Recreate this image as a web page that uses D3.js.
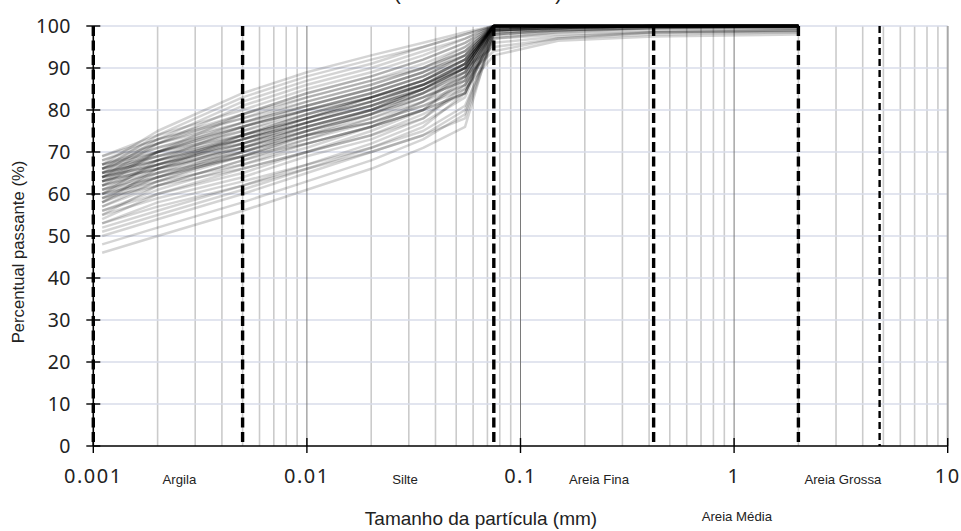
<!DOCTYPE html>
<html><head><meta charset="utf-8">
<script src="https://cdn.jsdelivr.net/npm/d3@7"></script>
<style>body{margin:0;background:#fff}svg{display:block}</style>
</head><body>
<svg id="c" width="961" height="531"></svg>
<script>
const diameters = [0.0011, 0.002, 0.005, 0.01, 0.02, 0.035, 0.055, 0.075, 0.15, 0.42, 2.0];
const samples = [
[46,50,56,61,66,71,76,99,99.5,100,100],
[48,52,58,63,68,73,79,98,99,99.5,99.5],
[51,55,61,66,71,75,81,97,98,98.5,98.5],
[52,56,62,67,72,77,83,99,99.5,100,100],
[53,58,63,67,71,76,84,100,100,100,100],
[54,60,66,70,74,78,85,99.5,100,100,100],
[55,59,64,69,73,78,86,96,97.5,98.5,99],
[56,61,67,72,76,80,87,100,100,100,100],
[57,62,68,73,78,82,88,99,99.5,100,100],
[58,63,69,74,77,81,86,98.5,99.5,100,100],
[58,64,71,76,80,85,91,100,100,100,100],
[59,62,66,70,75,80,88,99.5,100,100,100],
[59,65,72,77,81,85,90,100,100,100,100],
[60,63,67,71,76,82,89,100,100,100,100],
[60,66,73,78,83,87,92,100,100,100,100],
[61,65,70,74,78,83,88,99,99.5,100,100],
[61,64,69,74,79,84,90,100,100,100,100],
[62,66,71,75,79,84,89,99.5,100,100,100],
[62,67,73,77,81,86,91,100,100,100,100],
[63,66,71,76,80,85,90,100,100,100,100],
[63,67,72,76,80,84,88,94,97,98.5,99],
[63,68,74,79,83,87,92,100,100,100,100],
[64,67,71,75,79,83,87,99,99.5,100,100],
[64,68,73,77,81,85,90,100,100,100,100],
[64,69,75,80,84,88,93,100,100,100,100],
[64,67,72,77,82,86,91,100,100,100,100],
[65,68,72,76,80,84,89,99.5,100,100,100],
[65,69,74,78,82,86,91,100,100,100,100],
[65,70,76,81,85,89,94,100,100,100,100],
[65,68,73,78,83,87,92,100,100,100,100],
[66,69,73,77,81,85,90,100,100,100,100],
[66,70,75,79,83,87,92,99.5,100,100,100],
[66,71,77,82,86,90,95,100,100,100,100],
[67,70,74,78,82,86,91,100,100,100,100],
[67,71,76,80,84,88,93,100,100,100,100],
[67,72,78,83,87,91,95,100,100,100,100],
[68,72,77,81,85,89,93,100,100,100,100],
[68,73,79,84,88,92,96,100,100,100,100],
[69,74,80,85,89,93,97,100,100,100,100],
[69,73,78,82,86,90,94,100,100,100,100],
[62,70,77,81,85,89,93,100,100,100,100],
[60,68,76,80,84,88,92,100,100,100,100],
[58,66,74,79,83,87,91,100,100,100,100],
[57,63,70,75,79,83,87,99,99.5,100,100],
[63,70,79,84,88,92,96,100,100,100,100],
[64,72,81,86,90,94,97,100,100,100,100],
[65,73,82,87,91,95,98,100,100,100,100],
[66,74,83,88,92,95,98,100,100,100,100],
[67,75,84,89,93,96,98.5,100,100,100,100],
[64,70,76,80,83,86,90,95,97,98,98.5],
[63,66,70,74,77,81,85,93,96.5,97.5,98],
[62,65,69,72,76,80,84,98,99,99.5,99.5],
[61,67,74,78,82,86,90,100,100,100,100],
[60,64,69,73,77,82,86,97,98.5,99.5,100],
[59,64,70,75,80,85,89,100,100,100,100],
[56,60,65,70,74,79,84,99,99.5,100,100],
[55,62,68,72,76,80,84,98,99,99.5,100],
[53,57,62,66,70,74,80,98.5,99,99.5,99.5],
[50,54,60,65,70,74,78,97.5,98.5,99,99],
[66,72,79,83,87,90,94,100,100,100,100]
];
const yTicks = [0,10,20,30,40,50,60,70,80,90,100];
const xTickValues = [0.001, 0.01, 0.1, 1, 10];
const xTickLabels = ["0.001", "0.01", "0.1", "1", "10"];
const boundaries = [0.001, 0.005, 0.075, 0.42, 2.0];
const boundaryThin = [4.8];
const classNames = ["Argila", "Silte", "Areia Fina", "Areia Média", "Areia Grossa"];
const classPositions = [0.00253, 0.0288, 0.233, 1.03, 3.23];
const classRow = [0, 0, 0, 1, 0];
const titleText = "(Amostras de solo)";

const svg = d3.select("#c");
const x = d3.scaleLog().domain([0.001, 10]).range([93.3, 947.7]);
const y = d3.scaleLinear().domain([0, 100]).range([446, 26]);

// minor vertical grid
const minor = [];
for (let k = -3; k <= 0; k++) for (let m = 2; m <= 9; m++) minor.push(m * Math.pow(10, k));
svg.append("g").selectAll("line").data(minor).join("line")
  .attr("x1", d => x(d)).attr("x2", d => x(d)).attr("y1", y(100)).attr("y2", y(0))
  .attr("stroke", "#cbcbcb").attr("stroke-width", 1.6);
// horizontal grid
svg.append("g").selectAll("line").data(yTicks.filter(d => d > 0)).join("line")
  .attr("x1", x(0.001)).attr("x2", x(10)).attr("y1", d => y(d)).attr("y2", d => y(d))
  .attr("stroke", "#d8dcea").attr("stroke-width", 1.4);
// major vertical grid
svg.append("g").selectAll("line").data(xTickValues.slice(1)).join("line")
  .attr("x1", d => x(d)).attr("x2", d => x(d)).attr("y1", y(100)).attr("y2", y(0))
  .attr("stroke", d => d === 10 ? "#a8a8a8" : "#7a7a7a").attr("stroke-width", d => d === 10 ? 2 : 1);

// curves
const line = d3.line().x((d, i) => x(diameters[i])).y(d => y(d));
svg.append("g").selectAll("path").data(samples).join("path")
  .attr("d", d => line(d)).attr("fill", "none")
  .attr("stroke", "#000").attr("stroke-opacity", 0.17).attr("stroke-width", 2.5)
  .attr("stroke-linejoin", "round");

// axes
const ax = svg.append("g").attr("stroke", "#000");
ax.append("line").attr("x1", x(0.001)).attr("x2", x(10)).attr("y1", y(0)).attr("y2", y(0)).attr("stroke-width", 1.6);
ax.append("line").attr("x1", x(0.001)).attr("x2", x(0.001)).attr("y1", y(100)).attr("y2", y(0)).attr("stroke-width", 1.6);
ax.selectAll(".yt").data(yTicks).join("line").attr("class", "yt")
  .attr("x1", x(0.001) - 7).attr("x2", x(0.001) + 7).attr("y1", d => y(d)).attr("y2", d => y(d)).attr("stroke-width", 1.4);
ax.selectAll(".xt").data(xTickValues).join("line").attr("class", "xt")
  .attr("x1", d => x(d)).attr("x2", d => x(d)).attr("y1", y(0) - 8).attr("y2", y(0) + 7).attr("stroke-width", 1.4);

// dashed boundaries
svg.append("g").selectAll("line").data(boundaries).join("line")
  .attr("x1", d => x(d)).attr("x2", d => x(d)).attr("y1", y(100)).attr("y2", y(0))
  .attr("stroke", "#000").attr("stroke-width", 3.4).attr("stroke-dasharray", "10,4.5");
svg.append("g").selectAll("line").data(boundaryThin).join("line")
  .attr("x1", d => x(d)).attr("x2", d => x(d)).attr("y1", y(100)).attr("y2", y(0))
  .attr("stroke", "#000").attr("stroke-width", 2.4).attr("stroke-dasharray", "7,4");

// tick labels
svg.append("g").selectAll("text").data(yTicks).join("text")
  .attr("x", 71).attr("y", d => y(d) + 6.5).attr("text-anchor", "end")
  .attr("font-family", "Noto Sans").attr("font-size", 19.5).attr("letter-spacing", 0.5)
  .attr("fill", "#222").text(d => d);
svg.append("g").selectAll("text").data(xTickValues).join("text")
  .attr("x", d => x(d)).attr("y", 483).attr("text-anchor", "middle")
  .attr("font-family", "Noto Sans").attr("font-size", 20).attr("letter-spacing", 1.5)
  .attr("fill", "#222").text((d, i) => xTickLabels[i]);

// class labels
svg.append("g").selectAll("text").data(classNames).join("text")
  .attr("x", (d, i) => x(classPositions[i])).attr("y", (d, i) => classRow[i] ? 521 : 484)
  .attr("text-anchor", "middle").attr("font-family", "Liberation Sans").attr("font-size", 13.2)
  .attr("fill", "#222").text(d => d);

// axis titles
svg.append("text").attr("x", 481).attr("y", 525).attr("text-anchor", "middle")
  .attr("font-family", "Liberation Sans").attr("font-size", 19).attr("fill", "#222")
  .text("Tamanho da partícula (mm)");
svg.append("text").attr("transform", "translate(24,252) rotate(-90)").attr("text-anchor", "middle")
  .attr("font-family", "Liberation Sans").attr("font-size", 16.7).attr("fill", "#222")
  .text("Percentual passante (%)");
svg.append("text").attr("x", 478).attr("y", 0).attr("text-anchor", "middle")
  .attr("font-family", "Liberation Sans").attr("font-size", 20).attr("fill", "#222")
  .text(titleText);
</script>
</body></html>
